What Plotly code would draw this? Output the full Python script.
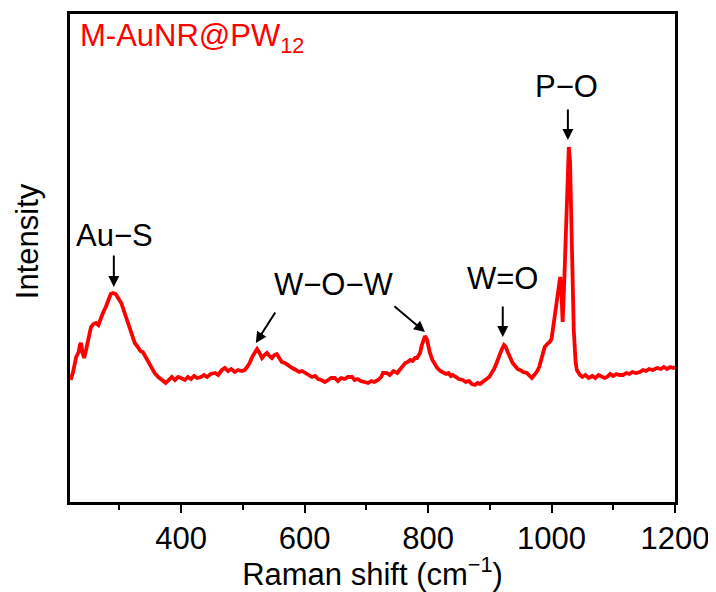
import plotly.graph_objects as go

# Raman shift (cm^-1) and intensity (arb. units)
shift = [221, 225, 230, 234, 236, 238, 240, 243, 246, 249, 252, 254, 258, 262, 266, 270, 274, 278, 282, 286,
         290, 294, 298, 303, 308, 314, 320, 325, 330, 334, 338, 344, 351, 357, 363, 369, 375, 380, 385, 390,
         395, 400, 406, 411, 416, 421, 426, 432, 437, 442, 448, 455, 460, 466, 471, 476, 481, 487, 492, 498,
         503, 507, 511, 515, 519, 523, 527, 531, 535, 539, 543, 547, 551, 555, 559, 563, 568, 574, 580, 586,
         591, 596, 601, 606, 612, 617, 622, 627, 633, 638, 643, 649, 654, 659, 665, 670, 677, 681, 686, 691,
         697, 703, 708, 713, 719, 724, 727, 733, 738, 744, 750, 755, 760, 763, 767, 771, 775, 779, 782, 785,
         787, 790, 793, 795, 798, 800, 803, 807, 811, 815, 820, 824, 829, 833, 837, 840, 845, 850, 856, 861,
         866, 871, 876, 880, 884, 889, 894, 899, 903, 907, 911, 915, 919, 923, 926, 929, 933, 937, 941, 945,
         949, 954, 960, 964, 968, 972, 976, 980, 984, 987, 989, 993, 997, 1000, 1002, 1005, 1009, 1012, 1014, 1016,
         1018, 1020, 1023, 1026, 1028, 1030, 1033, 1036, 1039, 1041, 1046, 1050, 1055, 1060, 1066, 1071, 1076, 1081, 1086, 1090,
         1095, 1100, 1105, 1110, 1116, 1121, 1126, 1131, 1137, 1143, 1148, 1153, 1158, 1164, 1171, 1177, 1182, 1187, 1192, 1197,
         1200]
intensity = [122, 130, 145, 150, 157, 159, 150, 144, 152, 162, 172, 175, 178, 179, 177, 185, 190, 195, 202, 208,
             209, 208, 204, 199, 190, 179, 170, 159, 155, 151, 150, 143, 135, 129, 125, 122, 119, 122, 125, 122,
             125, 124, 122, 125, 123, 126, 124, 125, 127, 125, 128, 129, 127, 132, 134, 131, 133, 130, 132, 131,
             132, 135, 139, 145, 150, 153, 149, 144, 147, 149, 146, 144, 147, 148, 144, 140, 139, 136, 134, 132,
             130, 131, 129, 128, 125, 126, 123, 122, 120, 122, 124, 124, 121, 124, 123, 125, 125, 122, 123, 121,
             120, 119, 121, 120, 122, 125, 129, 129, 127, 131, 129, 133, 136, 139, 140, 142, 141, 144, 144, 147,
             149, 157, 164, 166, 163, 156, 149, 142, 137, 134, 131, 130, 128, 129, 126, 127, 125, 123, 122, 120,
             121, 118, 117, 119, 118, 120, 123, 125, 129, 133, 139, 146, 152, 157, 155, 150, 144, 139, 136, 133,
             132, 130, 129, 126, 124, 127, 130, 135, 145, 152, 155, 158, 160, 163, 172, 182, 199, 215, 225, 210,
             180, 210, 272, 330, 355, 340, 272, 172, 140, 132, 127, 125, 127, 124, 126, 124, 127, 125, 124, 125,
             128, 126, 128, 127, 127, 129, 128, 130, 129, 130, 132, 131, 133, 132, 134, 133, 135, 133, 135, 134,
             135]

x_ticks = [400, 600, 800, 1000, 1200]
sample_label = "M-AuNR@PW<sub>12</sub>"
x_title = "Raman shift (cm<sup>−1</sup>)"
y_title = "Intensity"
# band labels: (text, label x, label y)
band_labels = [("Au−S", 292, 267), ("W−O−W", 647, 218), ("W=O", 921, 224), ("P−O", 1025, 416)]
# arrows: (head x, head y, tail x, tail y)
band_arrows = [(291, 215, 291, 248), (521, 159, 554, 191), (795, 170, 743, 197),
               (921, 165, 921, 197), (1026.5, 362, 1026.5, 394)]

FONT = "Liberation Sans, Arial, sans-serif"
FS = 31

fig = go.Figure()
fig.add_trace(go.Scatter(x=shift, y=intensity, mode="lines",
                         line=dict(color="#ff0000", width=3.8), showlegend=False, hoverinfo="skip"))

for txt, lx, ly in band_labels:
    fig.add_annotation(x=lx, y=ly, xref="x", yref="y", xanchor="center", yanchor="middle",
                       text=txt, showarrow=False, font=dict(family=FONT, size=FS, color="black"))
for hx, hy, tx, ty in band_arrows:
    fig.add_annotation(x=hx, y=hy, ax=tx, ay=ty, xref="x", yref="y", axref="x", ayref="y",
                       text="", showarrow=True, arrowhead=2, arrowsize=1.1, arrowwidth=2,
                       arrowcolor="black", standoff=0)

fig.add_annotation(x=233, y=464, xref="x", yref="y", xanchor="left", yanchor="middle",
                   text=sample_label, showarrow=False, font=dict(family=FONT, size=FS, color="#ff0000"))
fig.add_annotation(x=-0.069, y=0.535, xref="paper", yref="paper", xanchor="center", yanchor="middle",
                   text=y_title, textangle=-90,
                   showarrow=False, font=dict(family=FONT, size=FS, color="black"))

fig.update_layout(
    width=708, height=584,
    margin=dict(l=62, r=41, t=6, b=90),
    plot_bgcolor="white", paper_bgcolor="white",
    font=dict(family=FONT, size=FS, color="black"),
    xaxis=dict(range=[220, 1200], tickvals=x_ticks, ticks="outside", ticklen=8, tickwidth=2,
               tickcolor="black", showline=True, linewidth=3, linecolor="black", mirror=True,
               showgrid=False, zeroline=False, tickfont=dict(family=FONT, size=FS),
               ticklabelstandoff=-1, ticklabeloverflow="allow", automargin=False,
               minor=dict(tickvals=[300, 500, 700, 900, 1100], ticks="outside", ticklen=5,
                          tickwidth=2, tickcolor="black", showgrid=False),
               title=dict(text=x_title, font=dict(family=FONT, size=FS), standoff=10)),
    yaxis=dict(range=[0, 488], showticklabels=False, ticks="", showline=True, linewidth=3,
               linecolor="black", mirror=True, showgrid=False, zeroline=False, automargin=False),
)

fig.write_html("out.html")
